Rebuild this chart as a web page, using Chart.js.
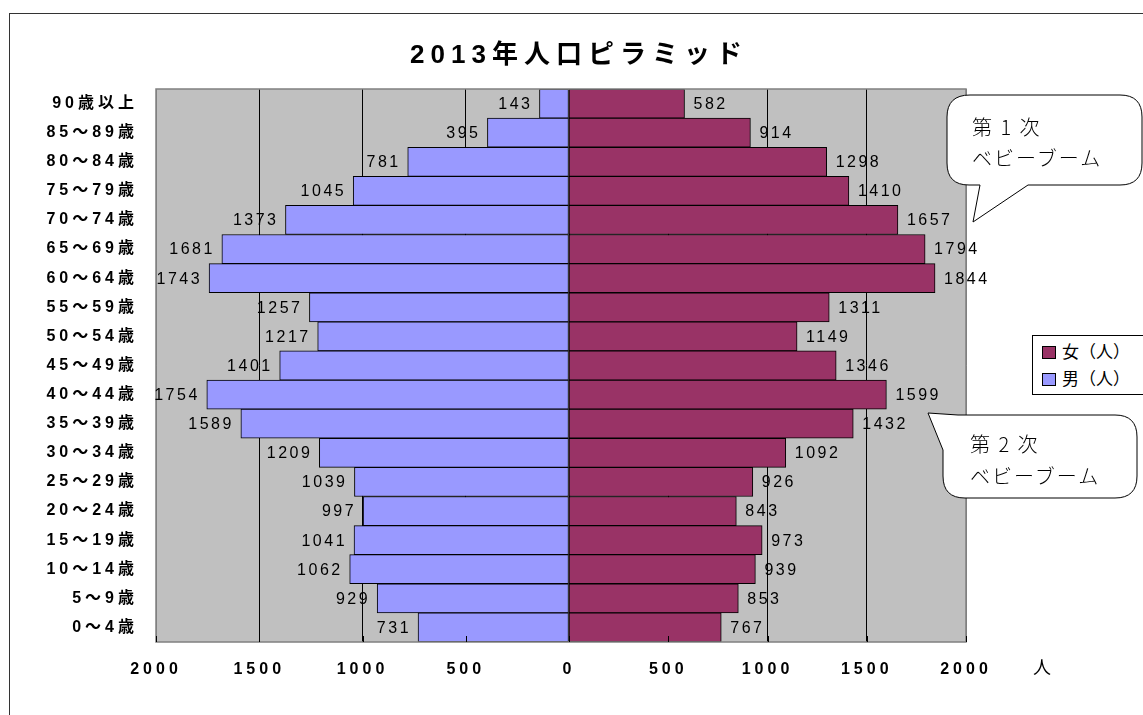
<!DOCTYPE html>
<html lang="ja">
<head>
<meta charset="utf-8">
<script src="https://cdn.jsdelivr.net/npm/chart.js@4"></script>
<style>
  html, body { margin: 0; padding: 0; background: #fff; width: 1143px; height: 715px; overflow: hidden; }
  #wrap { position: relative; width: 1143px; height: 715px; }
  #frame { position: absolute; left: 9px; top: 13px; width: 1300px; height: 900px; border: 1.5px solid #333; box-sizing: border-box; }
  canvas { position: absolute; left: 0; top: 0; }
  #title { position: absolute; left: 579px; top: 51px; transform: translate(-50%, -50%); white-space: nowrap;
    font: bold 26px "Liberation Sans", "Noto Sans CJK JP", sans-serif; letter-spacing: 6px; color: #000; }
  #legend { position: absolute; left: 1032px; top: 335px; width: 140px; height: 60px; border: 1px solid #000; background: #fff; box-sizing: border-box;
    font: 17px "Noto Sans CJK JP", sans-serif; color: #000; }
  .li { position: absolute; left: 9px; height: 20px; line-height: 20px; white-space: nowrap; }
  .sw { display: inline-block; width: 14px; height: 13px; border: 1px solid #000; box-sizing: border-box; vertical-align: -1px; margin-right: 6px; }
  #unit { position: absolute; left: 1033px; top: 653px; font: 18px "Noto Sans CJK JP", sans-serif; color: #000; }
  svg { position: absolute; left: 0; top: 0; }
  .bt { font-family: "Noto Sans CJK JP", sans-serif; font-weight: 300; font-size: 20px; letter-spacing: 2px; fill: #000; }
</style>
</head>
<body>
<div id="wrap">
  <div id="frame"></div>
  <canvas id="c" width="1143" height="715"></canvas>
  <div id="title">2013年人口ピラミッド</div>
  <div id="legend">
    <div class="li" style="top:5px"><span class="sw" style="background:#993366"></span>女（人）</div>
    <div class="li" style="top:32px"><span class="sw" style="background:#9999FF"></span>男（人）</div>
  </div>
  <div id="unit">人</div>
  <svg width="1143" height="715">
    <path d="M 970 95 L 1120 95 Q 1142 95 1142 117 L 1142 163 Q 1142 185 1120 185 L 1028 185 L 973 222 L 980 185 L 969 185 Q 947 185 947 163 L 947 117 Q 947 95 970 95 Z" fill="#fff" stroke="#000" stroke-width="1"/>
    <text class="bt" x="972" y="135">第 1 次</text>
    <text class="bt" x="972" y="166">ベビーブーム</text>
    <path d="M 958 415 L 1115 415 Q 1137 415 1137 437 L 1137 476 Q 1137 498 1115 498 L 965 498 Q 943 498 943 476 L 943 450 L 928 413 Z" fill="#fff" stroke="#000" stroke-width="1"/>
    <text class="bt" x="970" y="452">第 2 次</text>
    <text class="bt" x="970" y="484">ベビーブーム</text>
  </svg>
</div>
<script>
// ---- data (top row to bottom row) ----
const categories = ["90歳以上","85〜89歳","80〜84歳","75〜79歳","70〜74歳","65〜69歳","60〜64歳","55〜59歳","50〜54歳","45〜49歳","40〜44歳","35〜39歳","30〜34歳","25〜29歳","20〜24歳","15〜19歳","10〜14歳","5〜9歳","0〜4歳"];
const male   = [143, 395, 781, 1045, 1373, 1681, 1743, 1257, 1217, 1401, 1754, 1589, 1209, 1039, 997, 1041, 1062, 929, 731];
const female = [582, 914, 1298, 1410, 1657, 1794, 1844, 1311, 1149, 1346, 1599, 1432, 1092, 926, 843, 973, 939, 853, 767];
const xTicks = [-2000, -1500, -1000, -500, 0, 500, 1000, 1500, 2000];
const seriesNames = ["男（人）", "女（人）"];

// The original pyramid has slightly different scales on each side of zero
// (left half is a bit wider than the right half), so each side gets its own axis.
const LEFT_HALF = 413, RIGHT_HALF = 397;
const maleMax = 2000 * RIGHT_HALF / LEFT_HALF;     // male axis: -2000 .. maleMax
const femaleMin = -2000 * LEFT_HALF / RIGHT_HALF;  // female axis: femaleMin .. 2000

const plotBg = {
  id: 'plotBg',
  beforeDraw(chart) {
    const {ctx, chartArea: a} = chart;
    ctx.save();
    ctx.fillStyle = '#C0C0C0';
    ctx.fillRect(a.left, a.top, a.right - a.left, a.bottom - a.top);
    ctx.restore();
    ctx.letterSpacing = '4px';
  },
  beforeDatasetsDraw(chart) {
    chart.ctx.letterSpacing = '0px';
  },
  afterDatasetsDraw(chart) {
    const {ctx, chartArea: a} = chart;
    const xm = chart.scales.xm, xf = chart.scales.xf;
    ctx.save();
    ctx.strokeStyle = '#808080';
    ctx.lineWidth = 1.5;
    ctx.strokeRect(a.left, a.top, a.right - a.left, a.bottom - a.top);
    ctx.strokeStyle = '#000';
    ctx.lineWidth = 1;
    xTicks.forEach(v => {
      const px = Math.round(v <= 0 ? xm.getPixelForValue(v) : xf.getPixelForValue(v)) + 0.5;
      ctx.beginPath(); ctx.moveTo(px, a.bottom); ctx.lineTo(px, a.bottom - 6); ctx.stroke();
    });
    ctx.font = '16px "Liberation Sans", sans-serif';
    ctx.letterSpacing = '2.5px';
    ctx.fillStyle = '#000';
    ctx.textBaseline = 'middle';
    chart.data.datasets.forEach((ds, di) => {
      const meta = chart.getDatasetMeta(di);
      meta.data.forEach((el, i) => {
        const txt = String(Math.abs(ds.data[i]));
        if (ds.data[i] < 0) {
          ctx.textAlign = 'right';
          ctx.fillText(txt, el.x - 7, el.y + 1);
        } else {
          ctx.textAlign = 'left';
          ctx.fillText(txt, el.x + 9, el.y + 1);
        }
      });
    });
    ctx.restore();
    ctx.letterSpacing = '0px';
  }
};

new Chart(document.getElementById('c'), {
  type: 'bar',
  data: {
    labels: categories,
    datasets: [
      { label: seriesNames[0], data: male.map(v => -v), xAxisID: 'xm', backgroundColor: '#9999FF', borderColor: '#000', borderWidth: 1, borderSkipped: false,
        barPercentage: 1, categoryPercentage: 1 },
      { label: seriesNames[1], data: female, xAxisID: 'xf', backgroundColor: '#993366', borderColor: '#000', borderWidth: 1, borderSkipped: false,
        barPercentage: 1, categoryPercentage: 1 }
    ]
  },
  options: {
    indexAxis: 'y',
    responsive: false,
    animation: false,
    devicePixelRatio: 1,
    layout: { padding: { left: 0, right: 177, top: 89, bottom: 0 } },
    plugins: { legend: { display: false }, title: { display: false }, tooltip: { enabled: false } },
    scales: {
      xm: {
        type: 'linear', position: 'bottom', axis: 'x',
        stacked: true,
        min: -2000, max: maleMax,
        afterBuildTicks(scale) {
          scale.ticks = xTicks.map(v => ({ value: v <= 0 ? v : v * maleMax / 2000 }));
        },
        afterFit(scale) { scale.height = 73; },
        grid: {
          drawTicks: false,
          color: ctx => (ctx.index === 0 || ctx.index === xTicks.length - 1) ? '#808080' : '#000',
          lineWidth: 1
        },
        border: { display: false },
        ticks: {
          padding: 18,
          color: '#000',
          font: { family: '"Liberation Sans", "Noto Sans CJK JP", sans-serif', size: 16, weight: 'bold' },
          callback: (v, i) => String(Math.abs(xTicks[i]))
        }
      },
      xf: {
        type: 'linear', position: 'bottom', axis: 'x',
        stacked: true,
        min: femaleMin, max: 2000,
        display: false
      },
      y: {
        stacked: true,
        afterFit(scale) { scale.width = 156; },
        grid: { display: false, drawTicks: false },
        border: { display: false },
        ticks: {
          padding: 18,
          color: '#000',
          font: { family: '"Liberation Sans", "Noto Sans CJK JP", sans-serif', size: 16, weight: 'bold' }
        }
      }
    }
  },
  plugins: [plotBg]
});
</script>
</body>
</html>
